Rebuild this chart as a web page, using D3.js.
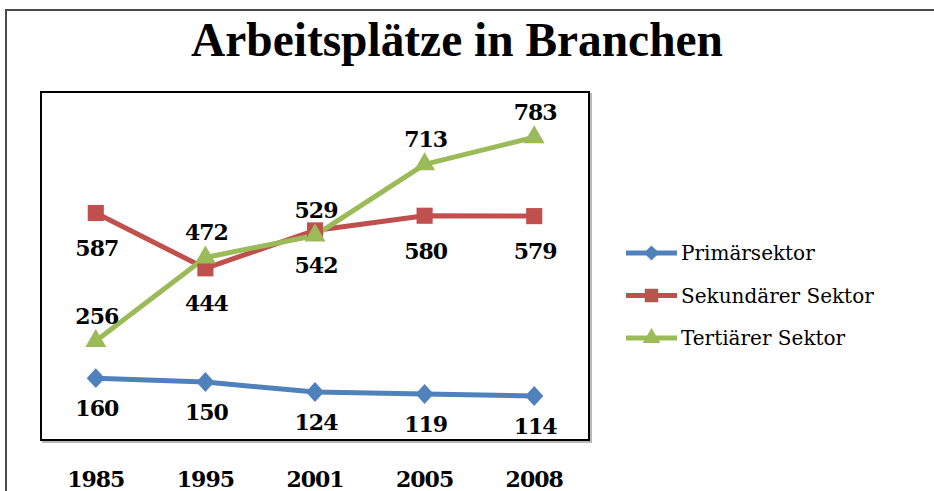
<!DOCTYPE html>
<html>
<head>
<meta charset="utf-8">
<script src="https://cdn.jsdelivr.net/npm/d3@7"></script>
<style>
  body { margin: 0; background: #fff; }
  svg { display: block; }
</style>
</head>
<body>
<div id="chart"></div>
<script>
// values
const years = ["1985", "1995", "2001", "2005", "2008"];
const primaer = [160, 150, 124, 119, 114];
const sekundaer = [587, 444, 542, 580, 579];
const tertiaer = [256, 472, 529, 713, 783];
const seriesNames = ["Primärsektor", "Sekundärer Sektor", "Tertiärer Sektor"];

const width = 934, height = 491;
const serif = "'DejaVu Serif', serif";

// square turned 45 degrees, like the office diamond marker
const diamond = {
  draw(context, size) {
    const r = Math.sqrt(size / 2);
    context.moveTo(0, -r);
    context.lineTo(r, 0);
    context.lineTo(0, r);
    context.lineTo(-r, 0);
    context.closePath();
  }
};

const series = [
  { name: seriesNames[0], values: primaer, color: "#4F81BD", symbol: diamond, size: 165, dy: 38 },
  { name: seriesNames[1], values: sekundaer, color: "#C0504D", symbol: d3.symbolSquare, size: 260, dy: 43 },
  { name: seriesNames[2], values: tertiaer, color: "#9BBB59", symbol: d3.symbolTriangle, size: 190, dy: -17 }
];

const svg = d3.select("#chart")
  .append("svg")
  .attr("width", width)
  .attr("height", height);

// outer chart frame (runs off the right and bottom edge)
svg.append("rect")
  .attr("x", 6).attr("y", 10)
  .attr("width", 960).attr("height", 520)
  .attr("fill", "none")
  .attr("stroke", "#4a4a4a")
  .attr("stroke-width", 2);

// title
const title = svg.append("text")
  .attr("x", 457).attr("y", 56)
  .attr("text-anchor", "middle")
  .attr("font-family", "'Liberation Serif', serif")
  .attr("font-weight", "bold")
  .attr("font-size", 48)
  .text("Arbeitsplätze in Branchen");

// squeeze title to the width seen in the picture
const tw = title.node().getComputedTextLength();
const target = 532;
if (tw > 0) {
  title.attr("transform", `translate(457,0) scale(${target / tw},1) translate(-457,0)`);
}

const plot = { left: 41, right: 589, top: 92, bottom: 440 };

const x = d3.scaleBand()
  .domain(years)
  .range([plot.left, plot.right])
  .padding(0);

const y = d3.scaleLinear()
  .domain([0, 900])
  .range([plot.bottom, plot.top]);

const cx = d => x(d) + x.bandwidth() / 2;

// plot area box with a light shadow
svg.append("rect")
  .attr("x", plot.left + 2).attr("y", plot.top + 2)
  .attr("width", plot.right - plot.left).attr("height", plot.bottom - plot.top)
  .attr("fill", "none")
  .attr("stroke", "#b8b8b8")
  .attr("stroke-width", 2);
svg.append("rect")
  .attr("x", plot.left).attr("y", plot.top)
  .attr("width", plot.right - plot.left).attr("height", plot.bottom - plot.top)
  .attr("fill", "#fff")
  .attr("stroke", "#000")
  .attr("stroke-width", 2);

// x axis labels
const xAxis = svg.append("g")
  .attr("transform", `translate(0,${plot.bottom})`)
  .call(d3.axisBottom(x).tickSize(0));
xAxis.select(".domain").remove();
xAxis.selectAll("text")
  .attr("y", 31)
  .attr("font-family", serif)
  .attr("font-weight", "bold")
  .attr("font-size", 22)
  .attr("letter-spacing", -1)
  .attr("fill", "#000");

const line = d3.line()
  .x((d, i) => cx(years[i]))
  .y(d => y(d));

for (const s of series) {
  svg.append("path")
    .datum(s.values)
    .attr("d", line)
    .attr("fill", "none")
    .attr("stroke", s.color)
    .attr("stroke-width", 5)
    .attr("stroke-linejoin", "round");
}

for (const s of series) {
  const sym = d3.symbol().type(s.symbol).size(s.size);
  svg.append("g")
    .selectAll("path")
    .data(s.values)
    .join("path")
    .attr("d", sym)
    .attr("transform", (d, i) => `translate(${cx(years[i])},${y(d)})` + (s.symbol === diamond ? " scale(1,1.1)" : ""))
    .attr("fill", s.color);
}

// data labels (blue and red below the point, green above)
for (const s of series) {
  svg.append("g")
    .selectAll("text")
    .data(s.values)
    .join("text")
    .attr("x", (d, i) => cx(years[i]) + 1)
    .attr("y", d => y(d) + s.dy)
    .attr("text-anchor", "middle")
    .attr("font-family", serif)
    .attr("font-weight", "bold")
    .attr("font-size", 22)
    .attr("letter-spacing", -1)
    .attr("fill", "#000")
    .text(d => d);
}

// legend
const legend = svg.append("g")
  .attr("transform", "translate(626,253)");

const rows = legend.selectAll("g")
  .data(series)
  .join("g")
  .attr("transform", (d, i) => `translate(0,${i * 42.5})`);

rows.append("line")
  .attr("x1", 0).attr("x2", 51)
  .attr("y1", 0).attr("y2", 0)
  .attr("stroke", d => d.color)
  .attr("stroke-width", 5);

rows.append("path")
  .attr("d", d => d3.symbol().type(d.symbol).size(d.size * 0.7)())
  .attr("transform", "translate(25.5,0)")
  .attr("fill", d => d.color);

rows.append("text")
  .attr("x", 55)
  .attr("y", 7)
  .attr("font-family", serif)
  .attr("font-size", 20)
  .attr("fill", "#000")
  .text(d => d.name);
</script>
</body>
</html>
